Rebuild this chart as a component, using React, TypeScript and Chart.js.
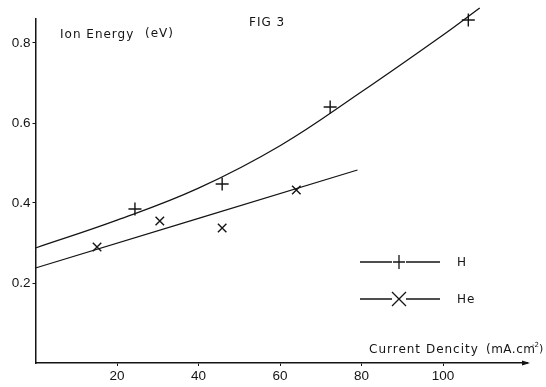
import React, { useEffect, useRef } from "react";
import { Chart, registerables } from "chart.js";

Chart.register(...registerables);

// Measured points
const hX = [24.4, 45.8, 72.3, 106.2];
const hY = [0.385, 0.4475, 0.64, 0.8575];
const heX = [15.1, 30.5, 45.8, 64.0];
const heY = [0.29, 0.355, 0.3375, 0.4325];

// Hand-drawn fitted curves
const hCurveX = [0, 20, 40, 60, 80, 100, 109];
const hCurveY = [0.2875, 0.357, 0.437, 0.543, 0.678, 0.82, 0.8875];
const heCurveX = [0, 40, 79];
const heCurveY = [0.2375, 0.3615, 0.4825];

// Axis ticks
const xTicks = [20, 40, 60, 80, 100];
const yTicks = [0.2, 0.4, 0.6, 0.8];

const INK = "#141414";

const zip = (xs: number[], ys: number[]) => xs.map((x, i) => ({ x, y: ys[i] }));

const annotations = {
  id: "annotations",
  afterDraw(chart: any) {
    const ctx = chart.ctx as CanvasRenderingContext2D;
    const area = chart.chartArea;
    ctx.save();
    ctx.fillStyle = INK;
    ctx.strokeStyle = INK;
    // x axis arrow
    const ax = area.right;
    const ay = area.bottom;
    ctx.beginPath();
    ctx.moveTo(ax + 3, ay);
    ctx.lineTo(ax - 5, ay - 2.5);
    ctx.lineTo(ax - 5, ay + 2.5);
    ctx.closePath();
    ctx.fill();

    // Texts
    ctx.textBaseline = "middle";
    ctx.textAlign = "left";
    ctx.font = "12px 'DejaVu Sans'";
    (ctx as any).letterSpacing = "1px";
    ctx.fillText("Ion Energy", 60, 35);
    ctx.fillText("(eV)", 145, 34);
    ctx.fillText("FIG 3", 249, 23);
    ctx.fillText("Current Dencity", 369, 350);
    (ctx as any).letterSpacing = "0.5px";
    ctx.fillText("(mA.cm", 486, 350);
    (ctx as any).letterSpacing = "0px";
    ctx.font = "7px 'DejaVu Sans'";
    ctx.fillText("-2", 532, 345);
    ctx.font = "11px 'DejaVu Sans'";
    ctx.fillText(")", 539, 349);

    // Legend
    ctx.lineWidth = 1.3;
    const legend = [
      { y: 262, label: "H", cross: true },
      { y: 299, label: "He", cross: false },
    ];
    ctx.font = "12px 'DejaVu Sans'";
    (ctx as any).letterSpacing = "1px";
    for (const l of legend) {
      ctx.beginPath();
      ctx.moveTo(360, l.y);
      ctx.lineTo(392, l.y);
      ctx.moveTo(406, l.y);
      ctx.lineTo(440, l.y);
      ctx.stroke();
      ctx.beginPath();
      const cx = 399;
      if (l.cross) {
        ctx.moveTo(cx - 6, l.y);
        ctx.lineTo(cx + 6, l.y);
        ctx.moveTo(cx, l.y - 7);
        ctx.lineTo(cx, l.y + 7);
      } else {
        ctx.moveTo(cx - 7, l.y - 7);
        ctx.lineTo(cx + 7, l.y + 7);
        ctx.moveTo(cx - 7, l.y + 7);
        ctx.lineTo(cx + 7, l.y - 7);
      }
      ctx.stroke();
      ctx.fillText(l.label, 457, l.y + 1);
    }
    ctx.restore();
  },
};

export default function App() {
  const ref = useRef<HTMLCanvasElement | null>(null);
  useEffect(() => {
    if (!ref.current) return;
    const tickFont = { family: "'Liberation Sans', Arial, sans-serif", size: 13.5 };
    const chart = new Chart(ref.current, {
      type: "scatter",
      data: {
        datasets: [
          {
            label: "H fit",
            data: zip(hCurveX, hCurveY),
            showLine: true,
            borderColor: INK,
            borderWidth: 1.3,
            pointRadius: 0,
            tension: 0.4,
            clip: false,
          } as any,
          {
            label: "He fit",
            data: zip(heCurveX, heCurveY),
            showLine: true,
            borderColor: INK,
            borderWidth: 1.3,
            pointRadius: 0,
            clip: false,
          } as any,
          {
            label: "H",
            data: zip(hX, hY),
            pointStyle: "cross",
            pointRadius: 6.5,
            borderColor: INK,
            borderWidth: 1.4,
            clip: false,
          } as any,
          {
            label: "He",
            data: zip(heX, heY),
            pointStyle: "crossRot",
            pointRadius: 6,
            borderColor: INK,
            borderWidth: 1.4,
            clip: false,
          } as any,
        ],
      },
      options: {
        animation: false,
        responsive: false,
        devicePixelRatio: 1,
        layout: { padding: { left: 0, top: 19, right: 19, bottom: 0 } },
        plugins: { legend: { display: false }, tooltip: { enabled: false } },
        scales: {
          x: {
            type: "linear",
            min: 0,
            max: 120.6,
            grid: { display: true, drawOnChartArea: false, drawTicks: true, tickLength: 3, color: INK },
            border: { display: true, color: INK, width: 1.5 },
            ticks: { color: INK, font: tickFont, padding: 2, maxRotation: 0, autoSkip: false },
            afterBuildTicks: (s: any) => {
              s.ticks = xTicks.map((v) => ({ value: v }));
            },
            afterFit: (s: any) => {
              s.height = 24;
            },
          },
          y: {
            type: "linear",
            min: 0,
            max: 0.86,
            grid: { display: true, drawOnChartArea: false, drawTicks: true, tickLength: 3, color: INK },
            border: { display: true, color: INK, width: 1.5 },
            ticks: {
              color: INK,
              font: tickFont,
              padding: 2,
              autoSkip: false,
              callback: (v: any) => Number(v).toFixed(1),
            },
            afterBuildTicks: (s: any) => {
              s.ticks = yTicks.map((v) => ({ value: v }));
            },
            afterFit: (s: any) => {
              s.width = 35.5;
            },
          },
        },
      },
      plugins: [annotations],
    });
    return () => chart.destroy();
  }, []);
  return (
    <div style={{ position: "absolute", left: 0, top: 0, width: 546, height: 387, background: "#fff" }}>
      <canvas ref={ref} width={546} height={387} style={{ display: "block" }} />
    </div>
  );
}
